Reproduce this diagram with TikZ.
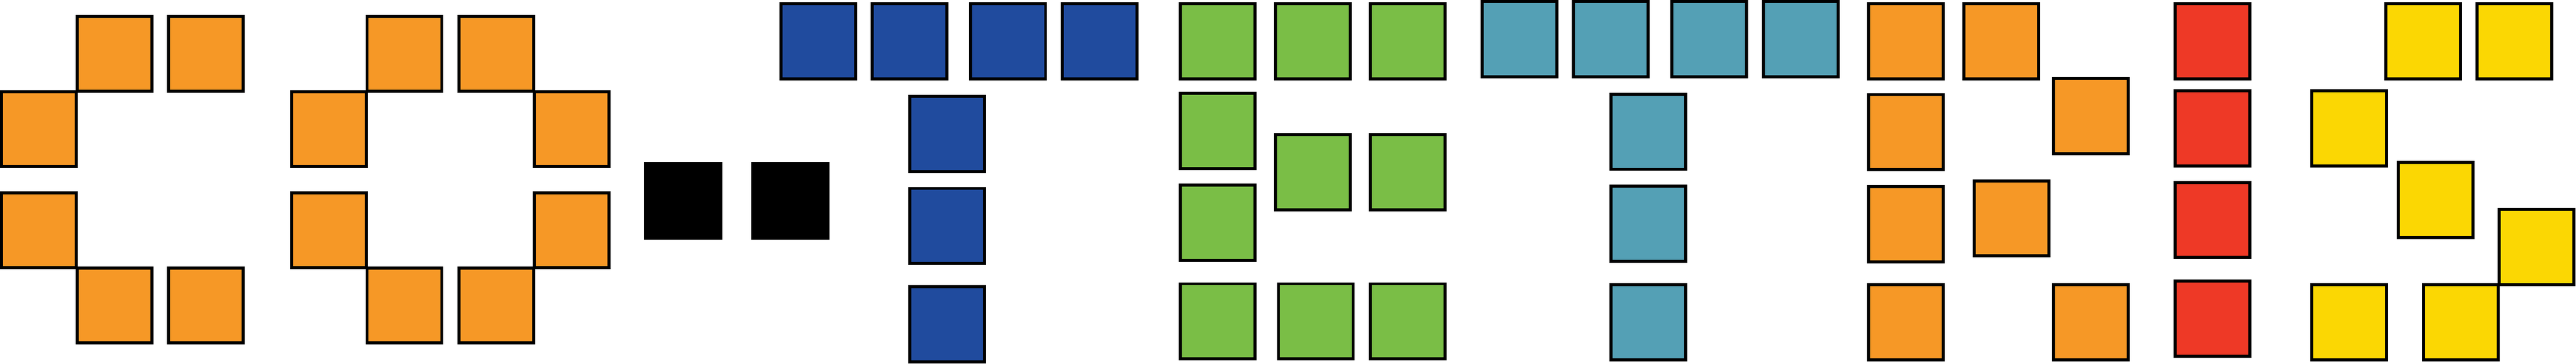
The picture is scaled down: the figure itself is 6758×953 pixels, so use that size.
\documentclass[tikz,border=0pt]{standalone}
\definecolor{cOrange}{RGB}{246,152,38}
\definecolor{cBlue}{RGB}{32,75,158}
\definecolor{cGreen}{RGB}{122,190,70}
\definecolor{cTeal}{RGB}{84,160,181}
\definecolor{cRed}{RGB}{238,57,38}
\definecolor{cYellow}{RGB}{251,215,3}
\begin{document}
\begin{tikzpicture}[x=0.1pt,y=-0.1pt,
  tile/.style={draw=black,line width=0.8pt}]
\fill[white] (0,0) rectangle (6758,953);
\useasboundingbox (0,0) rectangle (6758,953);
% orange C and O
\foreach \X/\Y in {199/39,438/39,0/236,0/502,199/699,438/699,
                   761/236,761/502,959/39,1200/39,959/699,1200/699,1397/236,1397/502}
  \filldraw[tile,fill=cOrange] (\X+4,\Y+4) rectangle ++(196,196);
% colon
\foreach \X/\Y in {1690/424,1971/424}
  \fill[black] (\X,\Y) rectangle ++(205,204);
% blue T
\foreach \X/\Y in {2045/6,2284/6,2543/6,2783/6,2383/249,2383/490,2383/748}
  \filldraw[tile,fill=cBlue] (\X+4,\Y+4) rectangle ++(196,197);
% green E
\foreach \X/\Y in {3093/6,3342/6,3591/6,3093/241,3093/481,3342/349,3591/349,3093/740,3350/740,3591/740}
  \filldraw[tile,fill=cGreen] (\X+4,\Y+4) rectangle ++(196,197);
% teal T
\foreach \X/\Y in {3884/0,4124/0,4382/0,4623/0,4222/243,4222/484,4222/742}
  \filldraw[tile,fill=cTeal] (\X+4,\Y+4) rectangle ++(196,197);
% orange R
\foreach \X/\Y in {4898/6,5148/6,4898/244,5384/202,4898/485,5175/470,4898/742,5384/742}
  \filldraw[tile,fill=cOrange] (\X+4,\Y+4) rectangle ++(196,197);
% red I
\foreach \X/\Y in {5702/6,5702/234,5702/474,5702/733}
  \filldraw[tile,fill=cRed] (\X+4,\Y+4) rectangle ++(196,197);
% yellow S
\foreach \X/\Y in {6255/6,6495/6,6060/234,6288/422,6553/545,6060/742,6354/742}
  \filldraw[tile,fill=cYellow] (\X+4,\Y+4) rectangle ++(196,197);
\end{tikzpicture}
\end{document}
